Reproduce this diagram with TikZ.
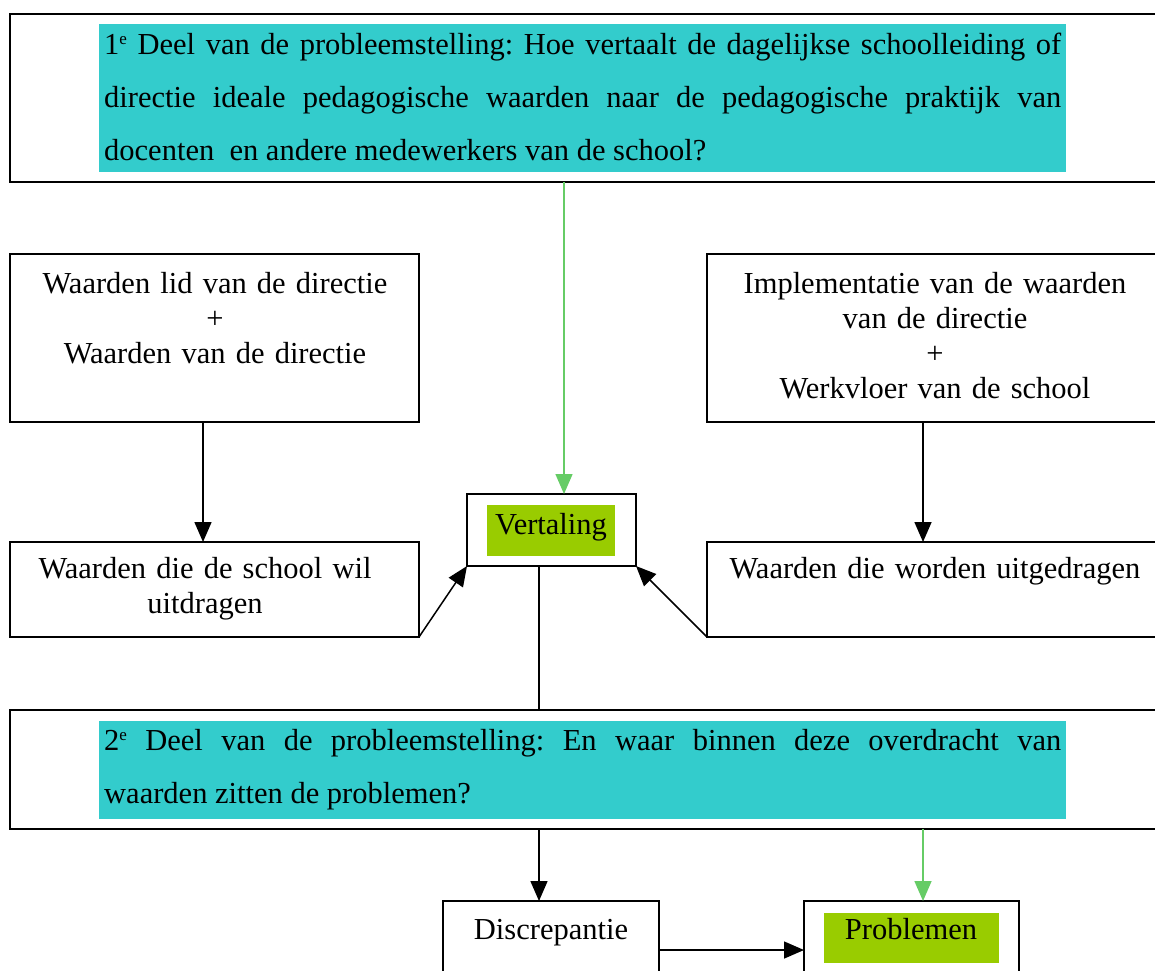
\documentclass[tikz,border=0pt]{standalone}
\usepackage{fontspec}
\setmainfont{Liberation Serif}
\usetikzlibrary{arrows.meta}
\definecolor{hlcyan}{HTML}{33CCCC}
\definecolor{hlgreen}{HTML}{99CC00}
\definecolor{arrgreen}{HTML}{66CC66}
\newcommand{\boxfont}{\fontsize{30.5}{35}\selectfont}
\newcommand{\parafont}{\fontsize{30.5}{53}\selectfont\tolerance=9999\frenchspacing }
\newcommand{\supe}{\raisebox{10pt}{\fontsize{17}{17}\selectfont e}}
\begin{document}
\begin{tikzpicture}[x=1pt,y=-1pt,
  frame/.style={draw=black, line width=2pt, anchor=north west, inner sep=0, outer sep=0},
  hl/.style={fill=#1, draw=none, anchor=north west, inner sep=0, outer sep=0},
  lbl/.style={font=\boxfont, text width=#1, align=center, inner sep=0, anchor=base},
  para/.style={font=\parafont, text width=957, align=justify, inner sep=0, anchor=base west},
  blk/.style={draw=black, line width=1.5pt, -{Triangle[length=20pt,width=17pt]}},
  grn/.style={draw=arrgreen, line width=1.5pt, -{Triangle[length=20pt,width=17pt,fill=arrgreen]}},
  plain/.style={draw=black, line width=1.5pt}]
\useasboundingbox (0,0) rectangle (1155,970);
\clip (0,0) rectangle (1155,970);

% top question box
\node[frame, minimum width=1160, minimum height=168] (top) at (10,14) {};
\node[hl=hlcyan, minimum width=967, minimum height=148] (q1bg) at (99,24) {};
\node[para] (q1) at (104,54) {1\supe{} Deel van de probleemstelling: Hoe vertaalt de dagelijkse schoolleiding of\linebreak directie ideale pedagogische waarden naar de pedagogische praktijk van\linebreak docenten\ \ en andere medewerkers van de school?};

% upper boxes
\node[frame, minimum width=409, minimum height=168] (lb1) at (10,254) {};
\node[lbl=400] (lb1t) at (215,293) {Waarden lid van de directie\\+\\Waarden van de directie};
\node[frame, minimum width=463, minimum height=168] (rb1) at (707,254) {};
\node[lbl=440] (rb1t) at (935,293) {Implementatie van de waarden\\van de directie\\+\\Werkvloer van de school};

% Vertaling
\node[frame, minimum width=169, minimum height=72] (vert) at (467,494) {};
\node[hl=hlgreen, minimum width=128, minimum height=51] (vertbg) at (487,505) {};
\node[lbl=160] (vertt) at (551,534) {Vertaling};

% middle boxes
\node[frame, minimum width=409, minimum height=95] (lb2) at (10,542) {};
\node[lbl=400] (lb2t) at (205,578) {Waarden die de school wil\\uitdragen};
\node[frame, minimum width=463, minimum height=95] (rb2) at (707,542) {};
\node[lbl=440] (rb2t) at (935,578) {Waarden die worden uitgedragen};

% second question box
\node[frame, minimum width=1160, minimum height=119] (bot) at (10,710) {};
\node[hl=hlcyan, minimum width=967, minimum height=98] (q2bg) at (99,721) {};
\node[para] (q2) at (104,750) {2\supe{} Deel van de probleemstelling: En waar binnen deze overdracht van\linebreak waarden zitten de problemen?};

% bottom boxes
\node[frame, minimum width=216, minimum height=100] (disc) at (443,901) {};
\node[lbl=200] (disct) at (551,939) {Discrepantie};
\node[frame, minimum width=215, minimum height=100] (prob) at (804,901) {};
\node[hl=hlgreen, minimum width=175, minimum height=50] (probbg) at (824,913) {};
\node[lbl=200] (probt) at (911,939) {Problemen};

% connector x/y positions
\coordinate (xg1) at (564,0);
\coordinate (xl) at (203,0);
\coordinate (xr) at (923,0);
\coordinate (xm) at (539,0);
\coordinate (yh) at (0,950);

% connectors
\draw[grn] (top.south -| xg1) -- (vert.north -| xg1);
\draw[blk] (lb1.south -| xl) -- (lb2.north -| xl);
\draw[blk] (rb1.south -| xr) -- (rb2.north -| xr);
\draw[blk] (lb2.south east) -- (vert.south west);
\draw[blk] (rb2.south west) -- (vert.south east);
\draw[plain] (vert.south -| xm) -- (bot.north -| xm);
\draw[blk] (bot.south -| xm) -- (disc.north -| xm);
\draw[grn] (bot.south -| xr) -- (prob.north -| xr);
\draw[blk] (disc.east |- yh) -- (prob.west |- yh);
\end{tikzpicture}
\end{document}
